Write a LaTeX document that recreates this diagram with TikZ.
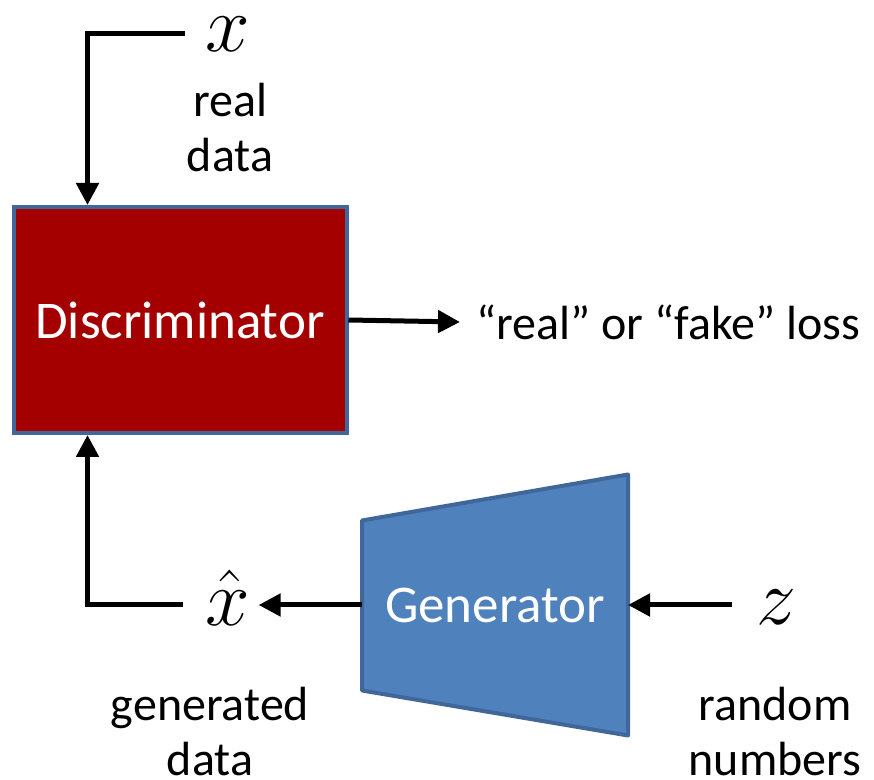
\documentclass[tikz,border=0pt]{standalone}
\usepackage{fix-cm}
\usepackage{fontspec}
\setmainfont{Carlito}
\usepackage{tikz}
\usetikzlibrary{calc,arrows.meta,positioning}

\definecolor{discred}{HTML}{A50000}
\definecolor{genblue}{HTML}{4F81BD}
\definecolor{edgeblue}{HTML}{41679A}

\begin{document}
\begin{tikzpicture}[x=0.5pt,y=-0.5pt,
      arr/.style={line width=2.5pt,-{Triangle[length=11pt,width=11pt]}},
      lbl/.style={font=\fontsize{24}{27.5}\selectfont,align=center,inner sep=0pt},
      sym/.style={font=\fontsize{40}{46}\selectfont,inner xsep=10pt,inner ysep=1pt}]
    \useasboundingbox (0,0) rectangle (874,780);
    % discriminator
    \node[draw=edgeblue,fill=discred,line width=2pt,minimum width=166.5pt,
          minimum height=113pt,text=white,font=\fontsize{26.5}{31}\selectfont]
          (disc) at (180,320) {Discriminator};
    % generator (trapezoid round an invisible box)
    \node[minimum width=133pt,minimum height=130.5pt,inner sep=0pt,outer sep=0pt]
          (gen) at (495,605) {};
    \draw[draw=edgeblue,fill=genblue,line width=2pt,line join=round]
          (gen.north east) -- (gen.south east)
          -- ($(gen.south west)+(0,-45)$) -- ($(gen.north west)+(0,46)$) -- cycle;
    \node[text=white,font=\fontsize{26.5}{31}\selectfont] at (gen.center) {Generator};
    % inputs and outputs
    \node[sym] (xin) at (228,34) {$x$};
    \node[lbl] (realdata) at (230,128) {real\\data};
    \node[lbl,anchor=west,inner sep=8pt] (loss) at (460,322) {“real” or “fake” loss};
    \node[sym,inner xsep=4pt] (xhat) at (228,598) {$\hat{x}$};
    \node[sym,inner xsep=12pt] (z) at (776,607) {$z$};
    \node[lbl] (gendata) at (210,732) {generated\\data};
    \node[lbl] (randnum) at (775,732) {random\\numbers};
    % connectors
    \draw[arr] (xin.west) -| ($(disc.north west)+(76,0)$);
    \draw[arr,shorten <=7pt] (xhat.west |- gen.west) -| ($(disc.south west)+(76,0)$);
    \draw[arr] (disc.east) -- (loss.west);
    \draw[arr] (gen.west) -- (xhat.east |- gen.west);
    \draw[arr] (z.west |- gen.east) -- (gen.east);
\end{tikzpicture}
\end{document}
